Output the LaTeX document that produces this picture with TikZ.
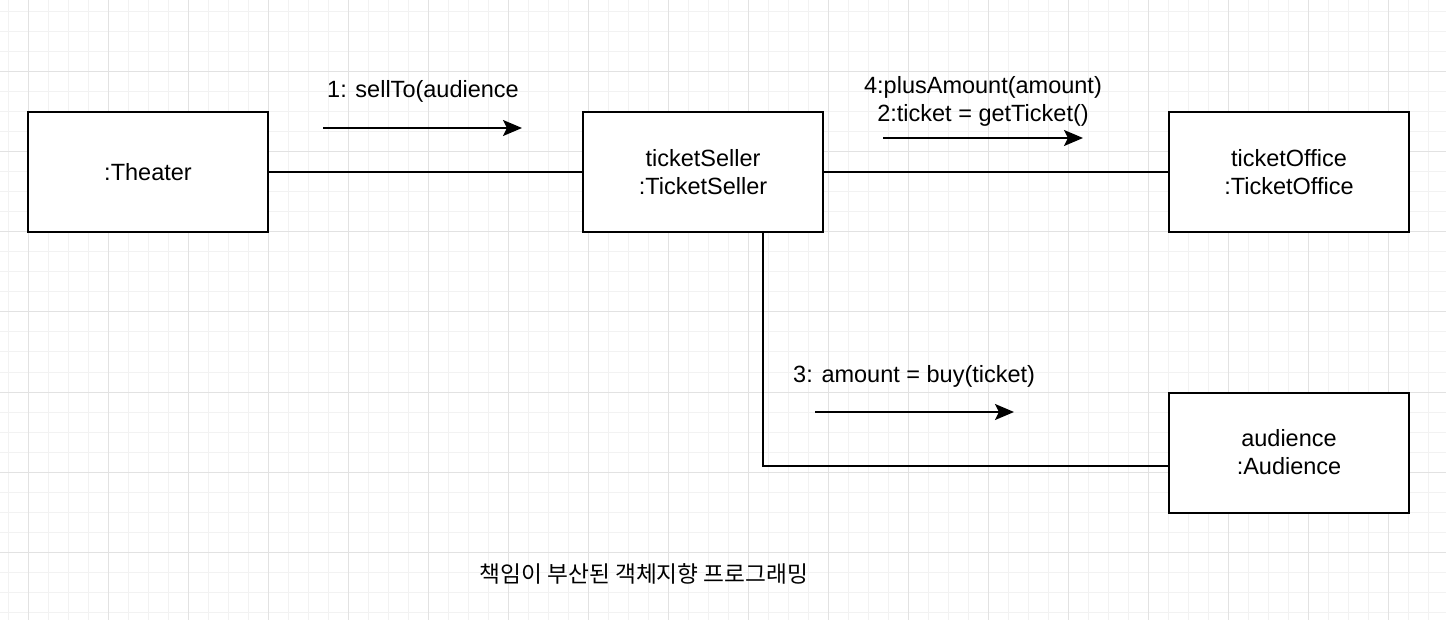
\documentclass[tikz,border=0pt]{standalone}
\usepackage{fontspec}
\setmainfont{Liberation Sans}
\newfontfamily\krfont{Noto Sans CJK KR}
\usetikzlibrary{arrows.meta}
\definecolor{gridminor}{HTML}{F2F2F2}
\definecolor{gridmajor}{HTML}{E2E2E2}
\begin{document}
\begin{tikzpicture}[x=1pt,y=-1pt,
  objbox/.style={draw=black,line width=2pt,fill=white,minimum width=240pt,minimum height=120pt,
    align=center,font=\fontsize{23.5}{28}\selectfont,inner sep=0pt},
  lbl/.style={font=\fontsize{23.5}{28}\selectfont,align=center,inner sep=0pt},
  conn/.style={draw=black,line width=2pt},
  msg/.style={draw=black,line width=2pt,-{Stealth[length=19pt,width=16pt,inset=4pt]}}]
\useasboundingbox (0,0) rectangle (1446,620);
\fill[white] (0,0) rectangle (1446,620);
% grid
\foreach \x in {8,28,...,1446} \draw[gridminor,line width=1pt] (\x,0) -- (\x,620);
\foreach \y in {12,32,...,620} \draw[gridminor,line width=1pt] (0,\y) -- (1446,\y);
\foreach \x in {28,108,...,1446} \draw[gridmajor,line width=1pt] (\x,0) -- (\x,620);
\foreach \y in {72,152,...,620} \draw[gridmajor,line width=1pt] (0,\y) -- (1446,\y);
\coordinate (bend) at (763,466);
% boxes
\node[objbox] (th) at (148,172.5) {:Theater};
\node[objbox] (ts) at (703,172.5) {ticketSeller\\:TicketSeller};
\node[objbox] (to) at (1289,172.5) {ticketOffice\\:TicketOffice};
\node[objbox] (au) at (1289,452.5) {audience\\:Audience};
\draw[conn] (th.east) -- (ts.west);
\draw[conn] (ts.east) -- (to.west);
\draw[conn] (ts.south -| bend) |- (au.west |- bend);
% messages
\coordinate (m1s) at (323,128); \coordinate (m1e) at (522,128);
\coordinate (m2s) at (883,138); \coordinate (m2e) at (1083,138);
\coordinate (m3s) at (815,412); \coordinate (m3e) at (1014,412);
\draw[msg] (m1s) -- (m1e);
\draw[msg] (m2s) -- (m2e);
\draw[msg] (m3s) -- (m3e);
\node[lbl,anchor=west] (l1) at (327,91) {1: sellTo(audience};
\node[lbl] (l2) at (983,101) {4:plusAmount(amount)\\2:ticket = getTicket()};
\node[lbl,anchor=west] (l3) at (793,376) {3: amount = buy(ticket)};
\node[inner sep=0pt] (title) at (644,574) {\krfont\fontsize{22.7}{26}\selectfont 책임이 부산된 객체지향 프로그래밍};
\end{tikzpicture}
\end{document}
